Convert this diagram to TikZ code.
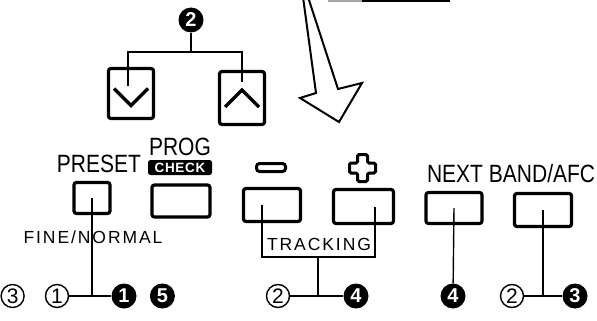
\documentclass[tikz,border=0pt]{standalone}
\usepackage{fontspec}
\newfontfamily\panelfont{Liberation Sans}
\usetikzlibrary{
	positioning
}
\newcommand\condtext[1]{\scalebox{0.84}[1]{#1}}
\tikzset{
	key/.style={draw,line width=3.2pt,rounded corners=2.5pt,inner sep=0pt},
	lead/.style={line width=1.4pt},
	chev/.style={line width=3.2pt},
	caption/.style={inner sep=0pt,anchor=base,font=\panelfont\fontsize{25}{25}\selectfont},
	spaced/.style={inner sep=0pt,anchor=base,font=\panelfont\fontsize{17.5}{17.5}\selectfont\addfontfeature{LetterSpace=11}},
	checktag/.style={fill=black,text=white,rounded corners=2.5pt,inner sep=0pt,minimum width=64pt,minimum height=15pt,font=\panelfont\bfseries\fontsize{13.5}{13.5}\selectfont\addfontfeature{LetterSpace=5}},
	opencirc/.style={circle,draw,line width=1.4pt,minimum size=23pt,inner sep=0pt,font=\panelfont\fontsize{21}{21}\selectfont},
	fullcirc/.style={circle,fill=black,text=white,minimum size=25pt,inner sep=0pt,font=\panelfont\bfseries\fontsize{20}{20}\selectfont}
}

\begin{document}
\begin{tikzpicture}[x=1pt,y=-1pt]
	\useasboundingbox (0,0) rectangle (597,321);

	% edge of the display and the big arrow
	\fill[gray!70] (328,0) rectangle (362,2.5);
	\fill (362,0) rectangle (450,2.5);
	\draw[line width=2pt,fill=white,line join=miter]
		(303,-3) -- (316,93) -- (300,98) -- (339,122) -- (362,83) -- (338,89) -- (308,-3);

	% keys
	\draw
		node[key,minimum width=45pt,minimum height=50pt] (down)   at (131,93.5)  {}
		node[key,minimum width=45pt,minimum height=53pt] (up)     at (242,98)    {}
		node[key,minimum width=36pt,minimum height=31pt] (preset) at (92,198)    {}
		node[key,minimum width=58pt,minimum height=32pt] (prog)   at (181,201)   {}
		node[key,minimum width=57pt,minimum height=33pt] (minus)  at (272,205)   {}
		node[key,minimum width=60pt,minimum height=34pt] (plus)   at (363.5,206.5) {}
		node[key,minimum width=56pt,minimum height=31pt] (next)   at (454,208)   {}
		node[key,minimum width=57pt,minimum height=33pt] (band)   at (543,210)   {}
	;
	\draw[chev] (down.center) ++(-17,-5) -- ++(17,17) -- ++(17,-17);
	\draw[chev] (up.center) ++(-17,9) -- ++(17,-17) -- ++(17,17);

	% key names
	\node[caption] (presetlbl) at (99,172)  {\condtext{PRESET}};
	\node[caption] (proglbl)   at (180,155) {\condtext{PROG}};
	\node[checktag] (checklbl) at (180,167.5) {CHECK};
	\node[caption] (nextlbl)   at (455,182) {\condtext{NEXT}};
	\node[caption] (bandlbl)   at (542,182) {\condtext{BAND/AFC}};
	\node[spaced]  (finelbl)   at (93,243)  {FINE/NORMAL};
	\node[spaced]  (tracklbl)  at (319,250) {TRACKING};
	\node[draw,line width=3pt,rounded corners=3pt,minimum width=29pt,minimum height=8pt,inner sep=0pt] (minussign) at (271,167.5) {};
	\draw[line width=3pt,rounded corners=1.5pt] (362.5,168) ++(-5,-13.5) -- ++(10,0) -- ++(0,8.5) -- ++(8,0) -- ++(0,10) -- ++(-8,0) -- ++(0,8.5) -- ++(-10,0) -- ++(0,-8.5) -- ++(-8,0) -- ++(0,-10) -- ++(8,0) -- cycle;

	% step numbers
	\node[fullcirc] (toptwo) at (191,20) {2};
	\coordinate (fork) at (191,52);
	\draw[lead] (toptwo) -- (fork);
	\draw[lead] ([shift={(-3pt,8pt)}]down.center) |- (fork) -| ([yshift=16pt]up.center);

	\node[opencirc] (one) at (57,296) {1};
	\node[opencirc,left=20pt of one] (three) {3};
	\node[fullcirc] (bone) at (124,296) {1};
	\node[fullcirc,right=13pt of bone] (bfive) {5};
	\draw[lead] (one) -- (bone);
	\draw[lead] (preset.center) -- (preset.center |- one.center);

	\node[opencirc] (tracktwo)  at (278,296) {2};
	\node[fullcirc] (trackfour) at (356,296) {4};
	\coordinate (trk) at (318,257);
	\draw[lead] ([xshift=-10pt]minus.center) |- (trk) -| ([xshift=11.5pt]plus.center);
	\draw[lead] (trk) -- (trk |- tracktwo.center);
	\draw[lead] (tracktwo) -- (trackfour);

	\node[fullcirc] (nextfour) at (453,296) {4};
	\draw[lead] (next.center) -- (nextfour);

	\node[opencirc] (bandtwo)   at (512,296) {2};
	\node[fullcirc] (bandthree) at (575,296) {3};
	\draw[lead] (band.center) -- (band.center |- bandtwo.center);
	\draw[lead] (bandtwo) -- (bandthree);
\end{tikzpicture}
\end{document}
